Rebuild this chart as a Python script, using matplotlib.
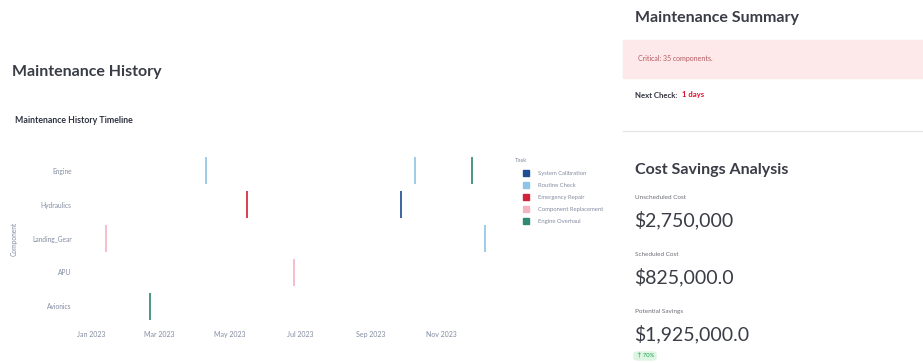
import matplotlib
matplotlib.use("Agg")
import matplotlib.pyplot as plt
import matplotlib.dates as mdates
from matplotlib.patches import Rectangle, FancyBboxPatch
import datetime as dt

plt.rcParams['font.family'] = ['Lato', 'DejaVu Sans']

# ---- data ----
components = ["Engine", "Hydraulics", "Landing_Gear", "APU", "Avionics"]
tasks = ["System Calibration", "Routine Check", "Emergency Repair",
         "Component Replacement", "Engine Overhaul"]
task_colors = ["#1f4e96", "#8fc4e6", "#d3233a", "#f5b3c1", "#2e8a72"]

event_component = ["Engine", "Engine", "Engine", "Hydraulics", "Hydraulics",
                   "Landing_Gear", "Landing_Gear", "APU", "Avionics"]
event_task = ["Routine Check", "Routine Check", "Engine Overhaul",
              "Emergency Repair", "System Calibration",
              "Component Replacement", "Routine Check",
              "Component Replacement", "Engine Overhaul"]
event_start = ["2023-04-10", "2023-10-08", "2023-11-27", "2023-05-15",
               "2023-09-26", "2023-01-13", "2023-12-08", "2023-06-25",
               "2023-02-20"]
event_days = [1.7, 1.7, 1.7, 1.7, 1.7, 1.7, 1.7, 1.7, 1.7]

tick_months = ["2023-01-01", "2023-03-01", "2023-05-01", "2023-07-01",
               "2023-09-01", "2023-11-01"]
axis_range = ["2022-12-22", "2023-12-22"]

unscheduled_cost = 2750000
scheduled_cost = 825000.0
savings = unscheduled_cost - scheduled_cost
critical_count = 35
next_check_days = 1

W, H = 923, 363
fig = plt.figure(figsize=(W / 100, H / 100), dpi=100)
fig.patch.set_facecolor("white")


def fx(px):
    return px / W


def fy(py):
    return 1 - py / H


def txt(x, y, s, size, color="#31333f", weight="normal", **kw):
    return fig.text(fx(x), fy(y), s, fontsize=size, color=color,
                    weight=weight, va="center", ha=kw.pop("ha", "left"), **kw)


AXIS_GRAY = "#838ca0"

# ---- left panel ----
txt(12, 72, "Maintenance History", 11.5, weight="bold", color="#3a3c46")
txt(15, 121, "Maintenance History Timeline", 6.3, weight="bold",
    color="#2f3340")

ax = fig.add_axes([fx(80), fy(323), fx(500) - fx(80), (323 - 154) / H])
ax.set_facecolor("white")
ypos = {c: i for i, c in enumerate(components)}
cmap = dict(zip(tasks, task_colors))
for comp, task, start, days in zip(event_component, event_task,
                                   event_start, event_days):
    s = mdates.date2num(dt.datetime.fromisoformat(start))
    ax.barh(ypos[comp], days, left=s, height=0.8, color=cmap[task],
            edgecolor="none", alpha=0.85)
ax.set_ylim(len(components) - 0.5, -0.5)
ax.set_xlim(mdates.date2num(dt.datetime.fromisoformat(axis_range[0])),
            mdates.date2num(dt.datetime.fromisoformat(axis_range[1])))
ax.set_yticks(range(len(components)))
ax.set_yticklabels(components, fontsize=4.8, color=AXIS_GRAY)
ticks = [mdates.date2num(dt.datetime.fromisoformat(t)) for t in tick_months]
ax.set_xticks(ticks)
ax.set_xticklabels([dt.datetime.fromisoformat(t).strftime("%b %Y")
                    for t in tick_months], fontsize=5.0, color=AXIS_GRAY)
ax.tick_params(length=0, pad=6)
for sp in ax.spines.values():
    sp.set_visible(False)
ax.set_ylabel("Component", fontsize=4.8, color=AXIS_GRAY, labelpad=10)

# legend
txt(515, 160, "Task", 4.4, color=AXIS_GRAY)
for i, (t, c) in enumerate(zip(tasks, task_colors)):
    y = 173 + i * 12
    fig.patches.append(Rectangle((fx(523), fy(y + 3)), fx(6), 6 / H,
                                 transform=fig.transFigure, color=c))
    txt(538, y, t, 4.2, color=AXIS_GRAY)

# ---- right panel ----
txt(635, 18, "Maintenance Summary", 11.5, weight="bold", color="#3a3c46")
fig.patches.append(Rectangle((fx(623), fy(78)), fx(300), 38 / H,
                             transform=fig.transFigure, color="#fde8ea",
                             zorder=0))
txt(638, 58, f"Critical: {critical_count} components.", 5, color="#b45a60")
fig.text(fx(635), fy(95), "Next Check:", fontsize=5.6, weight="bold",
         color="#31333f", va="center")
fig.text(fx(682), fy(95), f"{next_check_days} days", fontsize=5.6,
         weight="bold", color="#e0102f", va="center")
fig.lines.append(plt.Line2D([fx(623), fx(923)], [fy(131), fy(131)],
                            transform=fig.transFigure, color="#e6e6ea",
                            lw=1))

txt(635, 170, "Cost Savings Analysis", 11.5, weight="bold", color="#3a3c46")
txt(635, 198, "Unscheduled Cost", 4.6, color="#6b6e78")
txt(634, 220, f"${unscheduled_cost:,}", 14, color="#3a3c46")
txt(635, 255, "Scheduled Cost", 4.6, color="#6b6e78")
txt(634, 277, f"${scheduled_cost:,}", 14, color="#3a3c46")
txt(635, 312, "Potential Savings", 4.6, color="#6b6e78")
txt(634, 334, f"${savings:,}", 14, color="#3a3c46")
pct = round(savings / unscheduled_cost * 100)
fig.patches.append(FancyBboxPatch((fx(634), fy(360)), fx(22), 8 / H,
                                  boxstyle="round,pad=0,rounding_size=0.004",
                                  transform=fig.transFigure,
                                  color="#dcf5e3"))
txt(637, 356, f"↑ {pct}%", 4.2, color="#1e9d4c")

fig.savefig("out.png", dpi=100, facecolor="white")
